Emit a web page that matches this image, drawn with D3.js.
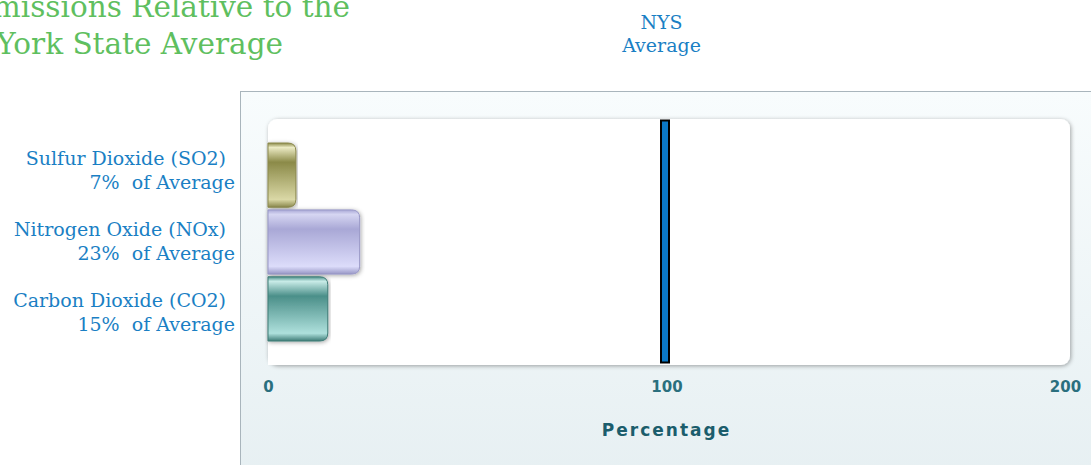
<!DOCTYPE html>
<html>
<head>
<meta charset="utf-8">
<script src="https://cdn.jsdelivr.net/npm/d3@7"></script>
<style>
  body { margin: 0; background: #fff; overflow: hidden; }
  svg { display: block; }
</style>
</head>
<body>
<div id="my_dataviz"></div>
<script>
// data
var pollutants = ["Sulfur Dioxide (SO2)", "Nitrogen Oxide (NOx)", "Carbon Dioxide (CO2)"];
var percentOfAverage = [7, 23, 15];
var nysAverage = 100;
var tickValues = [0, 100, 200];
var titleLines = ["Emissions Relative to the", "New York State Average"];

// bar colours: [highlight, dark, bottom, edge]
var barColors = [
  ["#ecebc4", "#8b8a48", "#dad8a6", "#8a884c"],
  ["#d6d6f2", "#a9a8d6", "#dcdcfa", "#9897c6"],
  ["#c9ece8", "#4b8f89", "#aee0dc", "#3f7c77"]
];

var W = 1091, H = 465;

var svg = d3.select("#my_dataviz")
  .append("svg")
    .attr("width", W)
    .attr("height", H);

var defs = svg.append("defs");

var panelGrad = defs.append("linearGradient")
  .attr("id", "panelGrad").attr("x1", 0).attr("y1", 0).attr("x2", 0).attr("y2", 1);
panelGrad.append("stop").attr("offset", "0%").attr("stop-color", "#f8fcfd");
panelGrad.append("stop").attr("offset", "100%").attr("stop-color", "#e3edf0");

var shadow = defs.append("filter").attr("id", "shadow")
  .attr("x", "-5%").attr("y", "-10%").attr("width", "110%").attr("height", "120%");
shadow.append("feDropShadow")
  .attr("dx", 1).attr("dy", 1).attr("stdDeviation", 2.2)
  .attr("flood-color", "#000").attr("flood-opacity", 0.35);

barColors.forEach(function(c, i) {
  var g = defs.append("linearGradient")
    .attr("id", "barGrad" + i).attr("x1", 0).attr("y1", 0).attr("x2", 0).attr("y2", 1);
  g.append("stop").attr("offset", "0%").attr("stop-color", c[1]);
  g.append("stop").attr("offset", "7%").attr("stop-color", c[0]);
  g.append("stop").attr("offset", "30%").attr("stop-color", c[1]);
  g.append("stop").attr("offset", "88%").attr("stop-color", c[2]);
  g.append("stop").attr("offset", "100%").attr("stop-color", c[3]);
});

// title (runs off the left edge, as in the original page)
svg.append("g").selectAll("text")
  .data(titleLines)
  .enter().append("text")
    .attr("x", function(d, i) { return i === 0 ? 350 : 283; })
    .attr("y", function(d, i) { return 17 + i * 37; })
    .attr("text-anchor", "end")
    .style("font-family", "'DejaVu Serif', serif")
    .style("font-size", "29.5px")
    .style("fill", "#5fbf5f")
    .text(function(d) { return d; });

// panel background
svg.append("rect")
  .attr("x", 240.5).attr("y", 91.5)
  .attr("width", W).attr("height", H)
  .attr("fill", "url(#panelGrad)")
  .attr("stroke", "#a9b5bc");

// plot area
var plot = { left: 268, right: 1070, top: 119, bottom: 365 };
svg.append("rect")
  .attr("x", plot.left).attr("y", plot.top)
  .attr("width", plot.right - plot.left).attr("height", plot.bottom - plot.top)
  .attr("rx", 9).attr("ry", 9)
  .attr("fill", "#fff")
  .attr("filter", "url(#shadow)");
svg.append("rect")
  .attr("x", plot.left).attr("y", plot.top + 10)
  .attr("width", 12).attr("height", plot.bottom - plot.top - 10)
  .attr("fill", "#fff");

// scales
var x = d3.scaleLinear()
  .domain([0, 200])
  .range([268, 1065]);

var y = d3.scaleBand()
  .domain(pollutants)
  .range([143, 341])
  .paddingInner(0.04);

var yLabel = d3.scaleBand()
  .domain(pollutants)
  .range([141.5, 354.5]);

// bars with rounded right end
function barPath(x0, x1, y0, h, r) {
  return "M" + x0 + "," + y0 +
    "H" + (x1 - r) + "Q" + x1 + "," + y0 + " " + x1 + "," + (y0 + r) +
    "V" + (y0 + h - r) + "Q" + x1 + "," + (y0 + h) + " " + (x1 - r) + "," + (y0 + h) +
    "H" + x0 + "Z";
}

svg.append("g").selectAll("path")
  .data(pollutants)
  .enter().append("path")
    .attr("d", function(d, i) {
      return barPath(x(0), x(percentOfAverage[i]), y(d), y.bandwidth(), 8);
    })
    .attr("fill", function(d, i) { return "url(#barGrad" + i + ")"; })
    .attr("stroke", function(d, i) { return barColors[i][3]; })
    .attr("stroke-width", 1)
    .attr("filter", "url(#shadow)");

// NYS average marker
svg.append("rect")
  .attr("x", x(nysAverage) - 5.5).attr("y", plot.top + 1.5)
  .attr("width", 8).attr("height", plot.bottom - plot.top - 4)
  .attr("fill", "#0b78c6")
  .attr("stroke", "#000")
  .attr("stroke-width", 2);

svg.append("g").selectAll("text")
  .data(["NYS", "Average"])
  .enter().append("text")
    .attr("x", x(nysAverage) - 5)
    .attr("y", function(d, i) { return 29 + i * 23; })
    .attr("text-anchor", "middle")
    .style("font-family", "'DejaVu Serif', serif")
    .style("font-size", "19px")
    .style("fill", "#1a7fc4")
    .text(function(d) { return d; });

// category labels
var labels = svg.append("g").selectAll("g")
  .data(pollutants)
  .enter().append("g")
    .attr("transform", function(d) { return "translate(0," + (yLabel(d) + yLabel.bandwidth() / 2) + ")"; });

labels.append("text")
  .attr("x", 226).attr("y", -12)
  .attr("text-anchor", "end")
  .style("font-family", "'DejaVu Serif', serif")
  .style("font-size", "19px")
  .style("fill", "#1a7fc4")
  .text(function(d) { return d; });

labels.append("text")
  .attr("x", 235).attr("y", 12)
  .attr("text-anchor", "end")
  .style("font-family", "'DejaVu Serif', serif")
  .style("font-size", "19px")
  .style("fill", "#1a7fc4")
  .text(function(d, i) { return percentOfAverage[i] + "%\u00a0 of Average"; });

// x axis
var xAxis = svg.append("g")
  .attr("transform", "translate(0," + 392 + ")")
  .call(d3.axisBottom(x).tickValues(tickValues).tickSize(0).tickPadding(0));
xAxis.select(".domain").remove();
xAxis.selectAll("text")
  .attr("dy", 0)
  .style("font-family", "'DejaVu Sans', sans-serif")
  .style("font-size", "15px")
  .style("font-weight", "bold")
  .style("fill", "#2a6f7e");

svg.append("text")
  .attr("x", x(nysAverage))
  .attr("y", 436)
  .attr("text-anchor", "middle")
  .style("font-family", "'DejaVu Sans', sans-serif")
  .style("font-size", "17px")
  .style("font-weight", "bold")
  .style("letter-spacing", "2px")
  .style("fill", "#1b5d6c")
  .text("Percentage");
</script>
</body>
</html>
